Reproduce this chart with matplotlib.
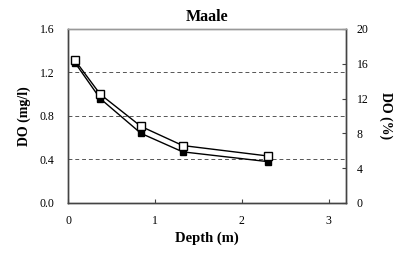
import matplotlib
matplotlib.use("Agg")
import matplotlib.pyplot as plt

depth = [0.08, 0.37, 0.84, 1.32, 2.30]
do_mgl = [1.29, 0.96, 0.64, 0.47, 0.38]
do_pct = [16.4, 12.5, 8.8, 6.6, 5.4]

plt.rcParams['font.family'] = ['Liberation Serif', 'DejaVu Serif']

fig = plt.figure(figsize=(4.05, 2.54), dpi=100)
ax = fig.add_axes([0.168, 0.201, 0.686, 0.685])
ax2 = ax.twinx()

for y in [0.4, 0.8, 1.2]:
    ax.axhline(y, color='#555555', lw=0.7, ls=(0, (4, 3)), zorder=0)

ax.plot(depth, do_mgl, color='black', lw=1.0, marker='s', ms=5,
        mfc='black', mec='black', zorder=3)
ax2.plot(depth, do_pct, color='black', lw=1.0, marker='s', ms=5.5,
         mfc='white', mec='black', zorder=3)

ax.set_xlim(0, 3.2)
ax.set_ylim(0, 1.6)
ax2.set_ylim(0, 20)
ax.set_xticks([0, 1, 2, 3])
ax.set_yticks([0.0, 0.4, 0.8, 1.2, 1.6])
ax.set_yticklabels(['0.0', '0.4', '0.8', '1.2', '1.6'])
ax2.set_yticks([0, 4, 8, 12, 16, 20])

ax.tick_params(axis='x', direction='in', length=3, labelsize=8.5, pad=9, color='#444444')
ax.tick_params(axis='y', direction='in', length=0, labelsize=8.5, pad=10)
ax2.tick_params(axis='y', direction='in', length=3, labelsize=8.5, pad=8, color='#444444')

for a in (ax, ax2):
    for s in a.spines.values():
        s.set_color('#444444')
        s.set_linewidth(1.0)
ax2.spines['top'].set_color('#999999')
ax.spines['top'].set_color('#999999')

ax.set_title('Maale', fontsize=11.5, fontweight='bold', pad=6)
ax.set_xlabel('Depth (m)', fontsize=10.5, fontweight='bold', labelpad=3)
ax.set_ylabel('DO (mg/l)', fontsize=10, fontweight='bold', labelpad=6)
ax2.set_ylabel('DO (%)', fontsize=10, fontweight='bold', rotation=-90, labelpad=17)

fig.savefig('out.png', dpi=100)
